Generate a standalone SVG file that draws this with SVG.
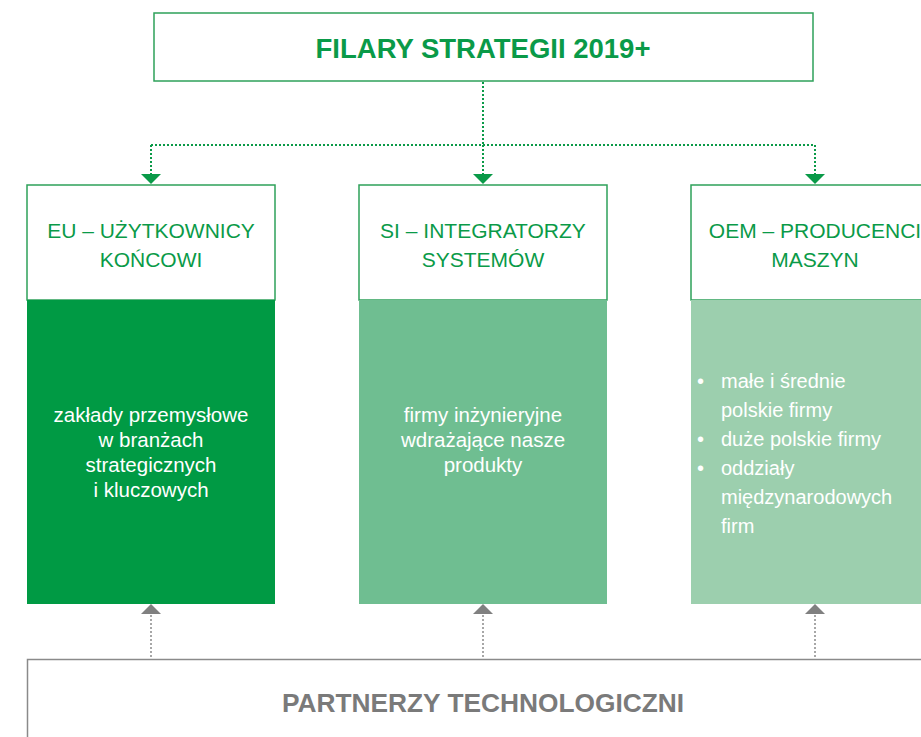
<svg xmlns="http://www.w3.org/2000/svg" width="921" height="737" viewBox="0 0 921 737">
<style>
.hdr{fill:#fff;stroke:#2ea15a;stroke-width:1.5}
.htxt{font-family:"Liberation Sans",Arial,sans-serif;font-size:21px;fill:#0a9a48;text-anchor:middle}
.btxt{font-family:"Liberation Sans",Arial,sans-serif;font-size:20.5px;fill:#fff;text-anchor:middle}
.ltxt{font-family:"Liberation Sans",Arial,sans-serif;font-size:20px;fill:#fff}
.gdot{fill:none;stroke:#0a9a48;stroke-width:2;stroke-dasharray:2 2}
.ydot{fill:none;stroke:#8a8a8a;stroke-width:1.5;stroke-dasharray:2 2}
.garr{fill:#0a9a48}
.yarr{fill:#808080}
</style>
<rect width="921" height="737" fill="#fff"/>
<g id="title">
<rect x="154" y="13" width="659" height="68" class="hdr"/>
<text x="483" y="58" text-anchor="middle" font-family="Liberation Sans,Arial,sans-serif" font-weight="bold" font-size="27.5" fill="#0a9a48">FILARY STRATEGII 2019+</text>
</g>
<g id="connectors">
<path class="gdot" d="M483 82 V145 M151 145 H815 M151 145 V174 M483 145 V174 M815 145 V174"/>
<polygon class="garr" points="141,174 161,174 151,184"/>
<polygon class="garr" points="473,174 493,174 483,184"/>
<polygon class="garr" points="805,174 825,174 815,184"/>
<path class="ydot" d="M151 615 V659 M483 615 V659 M815 615 V659"/>
<polygon class="yarr" points="151,604 161,614 141,614"/>
<polygon class="yarr" points="483,604 493,614 473,614"/>
<polygon class="yarr" points="815,604 825,614 805,614"/>
</g>
<g id="eu">
<rect x="27" y="185" width="248" height="115" class="hdr"/>
<rect x="27" y="300" width="248" height="304" fill="#009a44"/>
<text class="htxt" x="151" y="238">EU – UŻYTKOWNICY</text>
<text class="htxt" x="151" y="267">KOŃCOWI</text>
<text class="btxt" x="151" y="422">zakłady przemysłowe</text>
<text class="btxt" x="151" y="447">w branżach</text>
<text class="btxt" x="151" y="472">strategicznych</text>
<text class="btxt" x="151" y="497">i kluczowych</text>
</g>
<g id="si">
<rect x="359" y="185" width="248" height="115" class="hdr"/>
<rect x="359" y="300" width="248" height="304" fill="#6fbe91"/>
<text class="htxt" x="483" y="238">SI – INTEGRATORZY</text>
<text class="htxt" x="483" y="267">SYSTEMÓW</text>
<text class="btxt" x="483" y="422">firmy inżynieryjne</text>
<text class="btxt" x="483" y="447">wdrażające nasze</text>
<text class="btxt" x="483" y="472">produkty</text>
</g>
<g id="oem">
<rect x="691" y="185" width="250" height="115" class="hdr"/>
<rect x="691" y="300" width="250" height="304" fill="#9ccfae"/>
<text class="htxt" x="815" y="238">OEM – PRODUCENCI</text>
<text class="htxt" x="815" y="267">MASZYN</text>
<text class="ltxt" x="697" y="388">•</text>
<text class="ltxt" x="721" y="388">małe i średnie</text>
<text class="ltxt" x="721" y="417">polskie firmy</text>
<text class="ltxt" x="697" y="446">•</text>
<text class="ltxt" x="721" y="446">duże polskie firmy</text>
<text class="ltxt" x="697" y="475">•</text>
<text class="ltxt" x="721" y="475">oddziały</text>
<text class="ltxt" x="721" y="504">międzynarodowych</text>
<text class="ltxt" x="721" y="533">firm</text>
</g>
<g id="partners">
<path d="M27.5 740 V659.5 H925" fill="none" stroke="#8a8a8a" stroke-width="1.5"/>
<text x="483" y="712" text-anchor="middle" font-family="Liberation Sans,Arial,sans-serif" font-weight="bold" font-size="26.3" fill="#7a7a7a">PARTNERZY TECHNOLOGICZNI</text>
</g>
</svg>
